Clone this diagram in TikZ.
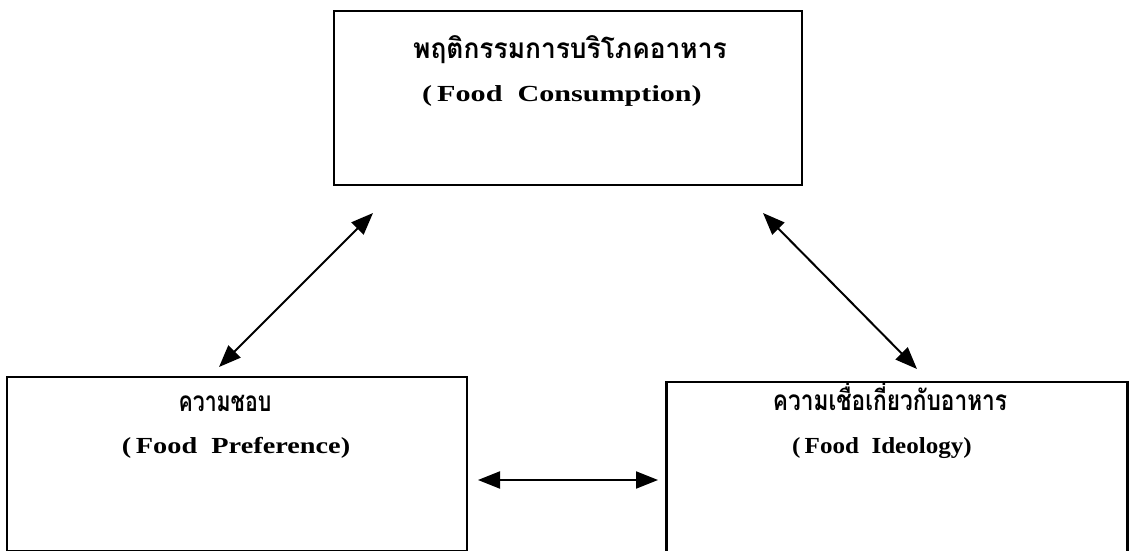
\documentclass[tikz,border=0pt]{standalone}
\usepackage{fontspec}
\setmainfont{Liberation Serif}
\newfontfamily\thaifont[Script=Thai]{Loma}
\usetikzlibrary{arrows.meta}
\begin{document}
\begin{tikzpicture}[x=1pt,y=-1pt,
  box/.style={draw,line width=2.4pt,rectangle,inner sep=0pt},
  thaitext/.style={font=\thaifont\bfseries\fontsize{28}{30}\selectfont,inner sep=0pt,anchor=base},
  engtext/.style={font=\bfseries\fontsize{23}{26}\selectfont,inner sep=0pt,anchor=base},
  biarrow/.style={line width=2pt,{Triangle[length=22pt,width=17pt]}-{Triangle[length=22pt,width=17pt]}}]
\useasboundingbox (0,0) rectangle (1129,551);
% boxes
\node[box,minimum width=468pt,minimum height=174pt] (top) at (568,98) {};
\node[box,minimum width=460pt,minimum height=174pt] (pref) at (237,464) {};
\node[box,minimum width=461pt,minimum height=170pt] (ideo) at (897,467) {};
% texts
\node[thaitext] (topth) at (570,59) {\scalebox{0.94}[1]{พฤติกรรมการบริโภคอาหาร}};
\node[engtext] (topen) at (562,101) {\scalebox{1.31}[1]{(\,Food\ \ Consumption)}};
\node[thaitext] (prefth) at (225,411) {\scalebox{0.76}[1]{ความชอบ}};
\node[engtext] (prefen) at (236,453) {\scalebox{1.23}[1]{(\,Food\ \ Preference)}};
\node[thaitext] (ideoth) at (890,410) {\scalebox{0.81}[1]{ความเชื่อเกี่ยวกับอาหาร}};
\node[engtext] (ideoen) at (882,453) {\scalebox{1.09}[1]{(\,Food\ \ Ideology)}};
% arrow end points
\coordinate (a1) at (373,213);
\coordinate (a2) at (219,367);
\coordinate (b1) at (763,213);
\coordinate (b2) at (917,369);
\coordinate (c1) at (478,480);
\coordinate (c2) at (658,480);
\draw[biarrow] (a1) -- (a2);
\draw[biarrow] (b1) -- (b2);
\draw[biarrow] (c1) -- (c2);
\end{tikzpicture}
\end{document}
